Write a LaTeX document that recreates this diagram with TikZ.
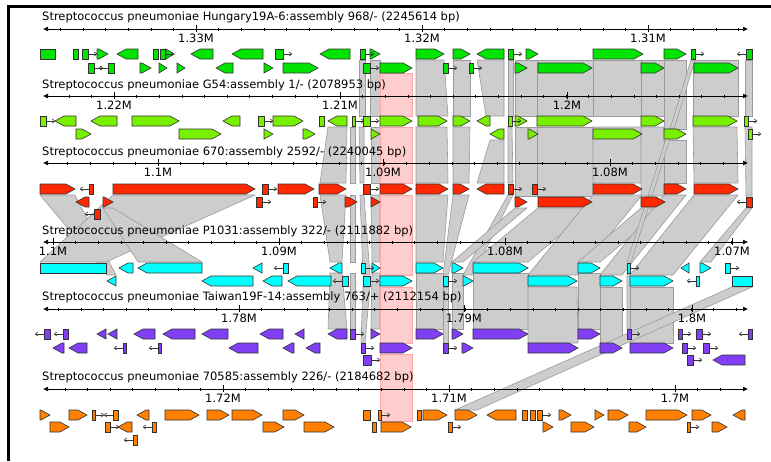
\documentclass[tikz,border=0pt]{standalone}
\usepackage{fontspec}
\setmainfont{DejaVu Sans}
\usepackage{tikz}
\usetikzlibrary{arrows.meta}
\definecolor{gOne}{RGB}{0,228,0}
\definecolor{gTwo}{RGB}{120,240,0}
\definecolor{gThree}{RGB}{255,40,0}
\definecolor{gFour}{RGB}{0,255,255}
\definecolor{gFive}{RGB}{128,62,245}
\definecolor{gSix}{RGB}{255,128,0}
\definecolor{blkfill}{RGB}{205,205,205}
\definecolor{blkline}{RGB}{155,155,155}
\definecolor{pinkfill}{RGB}{255,205,205}
\definecolor{pinkline}{RGB}{255,165,165}
\begin{document}
\begin{tikzpicture}[x=1pt,y=-1pt,
    gene/.style={draw=black!80,line width=0.6pt},
    blk/.style={fill=blkfill,draw=blkline,line width=0.6pt},
    hilite/.style={fill=pinkfill,draw=pinkline,line width=0.6pt},
    tail/.style={-{To[length=3pt,width=4.5pt]},line width=0.6pt,black!80},
    axisline/.style={line width=0.7pt,{Latex[length=5pt,width=5pt]}-{Latex[length=5pt,width=5pt]}},
    tick/.style={line width=0.6pt},
    lab/.style={font=\fontsize{11.5}{13}\selectfont,inner sep=0pt}]
\useasboundingbox (0,0) rectangle (771,461);
% window frame
\draw[line width=2.5pt] (8.5,461) -- (8.5,6.5) -- (771,6.5);

% alignment blocks: top y / top x1 / top x2 / bottom y / bottom x1 / bottom x2
\foreach \ya/\a/\b/\yb/\c/\d in {
    60/359/365/116/359/365, 60/370/380/116/370/380, 60/416/444/116/416/448,
    60/453/470/116/453/470, 60/477/504/116/486/504, 60/508/513/116/508/513,
    60/515/537/116/515/537, 60/537/593/116/537/593, 60/593/641/116/593/641,
    60/641/664/116/641/664, 60/664/686/129/664/686, 60/693/738/116/693/738,
    60/745/752/116/745/752,
    127/328/347/183/320/346, 127/350/355/183/350/355, 127/359/364/183/360/364,
    127/371/380/183/371/380, 127/416/447/183/416/448, 127/453/470/183/453/469,
    140/490/504/183/477/504, 127/508/512/183/508/513, 127/515/537/196/515/537,
    127/537/593/196/537/593, 127/593/641/183/593/642, 127/641/664/196/641/665,
    140/664/686/183/664/686, 127/693/737/183/694/738, 127/745/752/196/746/752,
    195/320/346/262/330/342, 195/350/355/262/350/355, 195/360/364/275/363/370,
    195/371/380/262/372/380, 195/416/448/262/416/443, 195/453/469/275/443/448,
    195/508/513/275/463/473, 208/515/527/262/452/463, 208/538/592/262/473/528,
    195/593/642/275/528/577, 208/641/665/262/578/600, 195/664/686/275/600/622,
    195/694/738/275/630/673, 208/746/752/262/700/711,
    195/40/75/275/107/116, 195/113/255/262/40/106, 208/103/113/262/138/202,
    273/330/342/329/328/347, 273/350/355/329/350/355, 287/363/370/343/361/365,
    273/372/380/329/371/380, 273/416/443/329/416/443, 287/443/448/343/443/448,
    273/452/463/329/452/463, 273/473/528/329/473/528, 287/528/577/343/528/578,
    273/578/600/329/578/600, 287/600/622/343/600/622, 273/627/630/329/627/631,
    287/630/673/343/630/673, 287/732/752/410/455/477,
    60/691/695/129/670/674, 129/669/673/196/648/652, 196/648/652/262/627/631}
  \draw[blk] (\a,\ya) -- (\b,\ya) -- (\d,\yb) -- (\c,\yb) -- cycle;

% selected block
\foreach \ya/\yb in {73/116, 127/183, 195/275, 287/343, 354/421}
  \draw[hilite] (380,\ya) rectangle (412,\yb);

% sequence names
\node[lab,anchor=west] (tOne) at (42,17) {Streptococcus pneumoniae Hungary19A-6:assembly 968/- (2245614 bp)};
\node[lab,anchor=west] (tTwo) at (42,85) {Streptococcus pneumoniae G54:assembly 1/- (2078953 bp)};
\node[lab,anchor=west] (tThree) at (42,152) {Streptococcus pneumoniae 670:assembly 2592/- (2240045 bp)};
\node[lab,anchor=west] (tFour) at (42,231) {Streptococcus pneumoniae P1031:assembly 322/- (2111882 bp)};
\node[lab,anchor=west] (tFive) at (42,297) {Streptococcus pneumoniae Taiwan19F-14:assembly 763/+ (2112154 bp)};
\node[lab,anchor=west] (tSix) at (42,377) {Streptococcus pneumoniae 70585:assembly 226/- (2184682 bp)};

% rulers
\foreach \ya/\xs/\n in {29/60.4/30, 96/46.2/30, 163/67.6/29, 242/53/30, 309/58.2/30, 389/64.8/30}{
  \draw[axisline] (43,\ya) -- (748,\ya);
  \foreach \k in {0,...,\n}
    \draw[tick] (\xs+\k*22.6,\ya-1.5) -- ++(0,3);
}
\foreach \ya/\x/\t [count=\j] in {29/196/1.33M, 29/422/1.32M, 29/648/1.31M,
    96/114/1.22M, 96/340/1.21M, 96/567/1.2M,
    163/158/1.1M, 163/383/1.09M, 163/610/1.08M,
    242/53/1.1M, 242/279/1.09M, 242/505/1.08M, 242/732/1.07M,
    309/239/1.78M, 309/464/1.79M, 309/692/1.8M,
    389/223/1.72M, 389/449/1.71M, 389/675/1.7M}{
  \draw[tick] (\x,\ya-4) -- (\x,\ya+3);
  \node[lab] (m\j) at (\x,\ya+9.5) {\t};
}

% genes pointing right
\foreach \c/\y/\a/\b in {
    gOne/54/97/108, gOne/54/166/174, gOne/54/370/380, gOne/54/416/444, gOne/54/453/470,
    gOne/54/526/538, gOne/54/593/643, gOne/54/664/686,
    gOne/68/140/151, gOne/68/159/167, gOne/68/177/185, gOne/68/264/273, gOne/68/283/318,
    gOne/68/380/412, gOne/68/515/527, gOne/68/538/592, gOne/68/641/664, gOne/68/694/738,
    gTwo/121/132/179, gTwo/121/273/303, gTwo/121/380/412, gTwo/121/418/447, gTwo/121/453/470,
    gTwo/121/515/527, gTwo/121/537/592, gTwo/121/641/664, gTwo/121/693/737,
    gTwo/134/76/91, gTwo/134/179/221, gTwo/134/264/273, gTwo/134/303/315, gTwo/134/371/380,
    gTwo/134/528/538, gTwo/134/593/642, gTwo/134/664/686,
    gThree/189/40/75, gThree/189/113/255, gThree/189/278/314, gThree/189/319/346,
    gThree/189/380/412, gThree/189/416/448, gThree/189/453/469, gThree/189/593/642,
    gThree/189/664/686, gThree/189/694/738,
    gThree/202/103/113, gThree/202/345/357, gThree/202/371/380, gThree/202/515/527,
    gThree/202/538/592, gThree/202/641/665,
    gFour/268/372/380, gFour/268/416/443, gFour/268/452/463, gFour/268/473/528,
    gFour/268/578/600, gFour/268/700/711,
    gFour/281/380/412, gFour/281/463/473, gFour/281/528/577, gFour/281/600/622, gFour/281/630/673,
    gFive/334/371/380, gFive/334/416/443, gFive/334/452/463, gFive/334/473/528, gFive/334/578/600,
    gFive/348/380/412, gFive/348/462/473, gFive/348/528/578, gFive/348/600/622, gFive/348/630/673,
    gSix/415/40/50, gSix/415/69/87, gSix/415/165/199, gSix/415/207/229, gSix/415/232/262,
    gSix/415/283/304, gSix/415/423/447, gSix/415/455/477, gSix/415/559/571, gSix/415/595/604,
    gSix/415/608/628, gSix/415/646/687, gSix/415/692/711,
    gSix/427/50/69, gSix/427/263/284, gSix/427/304/334, gSix/427/381/411, gSix/427/543/553,
    gSix/427/571/594, gSix/427/629/646, gSix/427/712/727}
  \draw[gene,fill=\c] (\a,\y-5) -- ({max(\a,\b-9)},\y-5) -- (\b,\y) -- ({max(\a,\b-9)},\y+5) -- (\a,\y+5) -- cycle;

% genes pointing left
\foreach \c/\y/\a/\b in {
    gOne/54/117/138, gOne/54/191/213, gOne/54/232/263, gOne/54/320/350, gOne/54/477/504,
    gOne/68/216/233,
    gTwo/121/55/76, gTwo/121/91/117, gTwo/121/223/240, gTwo/121/328/347, gTwo/121/477/490,
    gTwo/134/490/504,
    gThree/189/477/504, gThree/202/76/89,
    gFour/268/119/133, gFour/268/138/202, gFour/268/253/262, gFour/268/330/342, gFour/268/681/689,
    gFour/281/107/116, gFour/281/202/253, gFour/281/263/282, gFour/281/288/331,
    gFive/334/97/106, gFive/334/108/117, gFive/334/134/155, gFive/334/163/195, gFive/334/202/228,
    gFive/334/260/283, gFive/334/295/304, gFive/334/328/347,
    gFive/348/53/64, gFive/348/69/87, gFive/348/229/258, gFive/348/283/294, gFive/348/306/320,
    gFive/360/713/745,
    gSix/415/137/149, gSix/415/487/516, gSix/415/733/745, gSix/427/118/132}
  \draw[gene,fill=\c] (\b,\y-5) -- ({min(\b,\a+9)},\y-5) -- (\a,\y) -- ({min(\b,\a+9)},\y+5) -- (\b,\y+5) -- cycle;

% short genes
\foreach \c/\y/\a/\b in {
    gOne/54/40/55, gOne/54/73/78, gOne/54/153/158, gTwo/121/319/324,
    gFour/268/40/106, gFour/281/732/752,
    gSix/415/363/370, gSix/415/417/421, gSix/415/522/527, gSix/415/530/535, gSix/427/372/376}
  \draw[gene,fill=\c] (\a,\y-5) rectangle (\b,\y+5);
\foreach \c/\y/\a/\b in {
    gOne/54/82/88, gOne/54/160/165, gOne/54/275/283, gOne/54/360/365, gOne/54/508/513,
    gOne/54/691/695, gOne/68/88/94, gOne/68/363/370, gOne/68/443/448, gOne/68/469/473,
    gTwo/121/40/46, gTwo/121/258/264, gTwo/121/352/355, gTwo/121/363/370, gTwo/121/508/512,
    gTwo/121/744/748, gTwo/134/748/752,
    gThree/189/262/268, gThree/189/363/370, gThree/189/508/513, gThree/189/532/537,
    gThree/202/256/262, gThree/202/313/317,
    gFour/268/361/365, gFour/268/627/630, gFour/268/725/730, gFour/281/363/370, gFour/281/443/448,
    gFive/334/350/355, gFive/334/627/631, gFive/334/678/682, gFive/334/696/702,
    gFive/348/361/365, gFive/348/443/448, gFive/348/682/687, gFive/348/703/709,
    gFive/360/363/371, gFive/360/687/693,
    gSix/415/92/95, gSix/415/378/381, gSix/415/537/542, gSix/427/105/110, gSix/427/448/452,
    gSix/427/687/690}{
  \draw[gene,fill=\c] (\a,\y-5) rectangle (\b,\y+5);
  \draw[tail] (\b,\y) -- (\b+9,\y);
}
\foreach \c/\y/\a/\b in {
    gOne/54/746/752, gOne/68/108/114,
    gThree/189/89/93, gThree/202/746/752, gThree/214/94/100,
    gFour/268/283/288, gFour/281/342/348, gFour/281/696/699,
    gFive/334/44/50, gFive/334/63/68, gFive/334/748/752, gFive/348/123/126, gFive/348/158/161,
    gSix/415/113/118, gSix/427/152/156, gSix/440/133/137}{
  \draw[gene,fill=\c] (\a,\y-5) rectangle (\b,\y+5);
  \draw[tail] (\a,\y) -- (\a-9,\y);
}
\end{tikzpicture}
\end{document}
